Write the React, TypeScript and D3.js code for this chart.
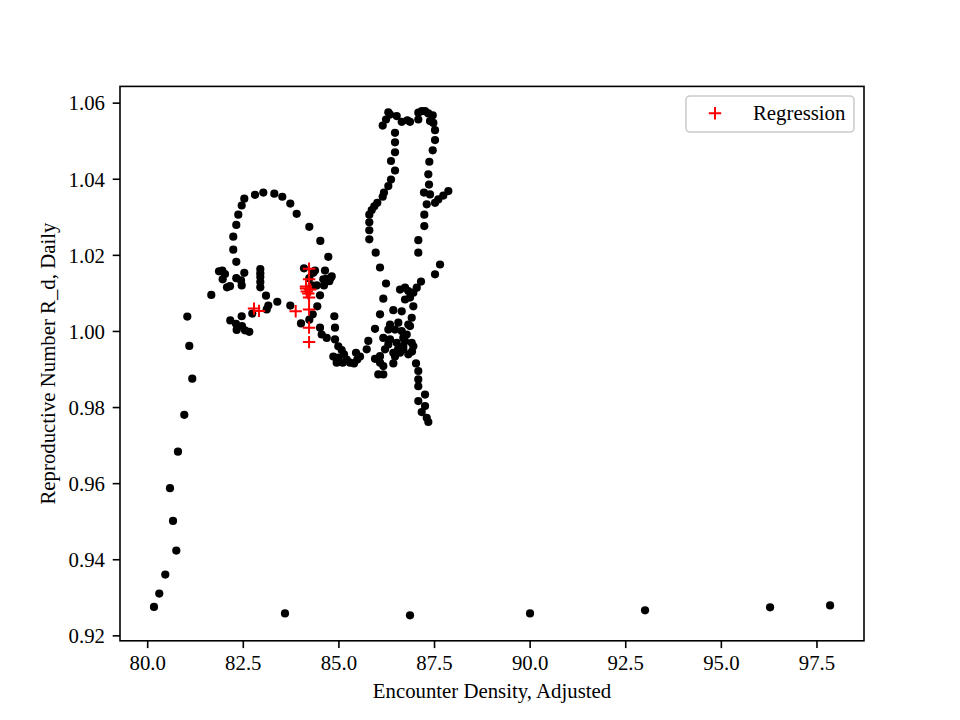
import React from "react";
import * as d3 from "d3";

const densityX: number[] = [
  80.165, 80.303, 80.46, 80.748, 80.662, 80.583, 80.792, 80.957, 81.166, 81.088, 81.036, 81.663,
  83.59, 86.859, 89.997, 93.005, 96.274, 97.843,
  82.526, 82.458, 82.369, 82.317, 82.238, 82.238, 82.317, 82.806, 83.023, 83.311, 83.52, 83.729, 83.896, 84.226, 84.514, 84.723,
  81.865, 81.951, 82.021, 81.961, 82.074, 82.152, 82.317, 82.44, 82.458, 82.526, 82.945, 82.945, 82.945, 82.945, 82.945,
  83.094, 83.154, 83.112, 83.389, 83.729, 82.16, 82.309, 82.458, 82.327, 82.466, 82.544, 82.657, 82.735,
  84.087, 84.226, 84.289, 84.375, 84.419, 84.506, 84.636, 84.681, 84.786, 84.61, 84.331, 84.331, 84.812, 84.749, 84.592,
  84.435, 84.315, 84.226, 84.009, 84.506, 84.55, 84.681, 84.88, 84.898, 84.898, 84.984, 84.854, 84.984, 85.133, 85.204,
  85.29, 85.447, 85.481, 85.395, 85.099, 84.942, 85.073, 85.552,
  85.769, 85.727, 85.944, 86.161, 86.03, 86.075, 86.161, 86.423, 86.075, 85.944, 86.075, 86.161, 86.232, 86.075, 85.962,
  85.795, 85.795, 85.795, 85.795, 85.858, 85.926, 86.004, 86.145, 86.179, 86.292, 86.362, 86.467, 86.362, 86.467, 86.467,
  86.467, 86.145, 86.232, 86.292, 86.336, 86.511, 86.642, 86.789, 86.859, 87.076, 87.076, 87.165, 87.252, 87.338, 87.453,
  87.382, 87.469, 87.513, 87.513, 87.453, 87.364, 87.338, 87.356, 87.225, 87.382, 87.296, 87.513, 87.599, 87.73, 87.861,
  87.233, 87.233, 87.076, 87.076, 87.644, 87.513, 87.147, 87.035, 86.946, 86.729, 86.815, 86.859, 86.729, 86.598, 86.946,
  86.642, 86.904, 86.815, 86.292, 86.161, 86.336, 86.553, 86.642, 86.773, 86.511, 86.684, 86.904, 86.946, 86.206, 86.423,
  86.598, 86.815, 86.292, 86.684, 86.859, 86.684, 86.423, 86.467, 86.336, 86.546, 86.729, 86.467, 86.911,
  87.016, 87.076, 87.076, 87.076, 87.252, 87.076, 87.252, 87.165, 87.296, 87.338,
];

const reproY: number[] = [
  0.9276, 0.9311, 0.9361, 0.9424, 0.9502, 0.9588, 0.9684, 0.9781, 0.9876, 0.9962, 1.0039, 1.0096,
  0.9259, 0.9254, 0.9259, 0.9267, 0.9275, 0.928,
  1.0349, 1.0331, 1.0307, 1.028, 1.0249, 1.0215, 1.0183, 1.0359, 1.0365, 1.0362, 1.0354, 1.0336, 1.0309, 1.0275, 1.0238, 1.0196,
  1.0158, 1.016, 1.0151, 1.0137, 1.0116, 1.0119, 1.014, 1.0134, 1.0121, 1.0154, 1.0164, 1.0153, 1.0143, 1.013, 1.0116,
  1.0094, 1.0068, 1.0058, 1.0078, 1.0068, 1.0029, 1.002, 1.004, 1.0004, 1.0014, 1.0003, 0.9999, 1.0047,
  1.0166, 1.014, 1.0121, 1.016, 1.0121, 1.0095, 1.016, 1.0138, 1.0141, 1.0121, 1.0154, 1.0119, 1.0145, 1.0132, 1.0137,
  1.0066, 1.0045, 1.0031, 1.0021, 1.001, 0.9992, 0.9983, 1.004, 1.001, 0.9979, 0.9961, 0.9934, 0.9931, 0.994, 0.9926,
  0.9918, 0.9944, 0.9926, 0.9916, 0.9918, 0.9918, 0.9951, 0.9934,
  0.9975, 0.9953, 0.9928, 0.9909, 0.9887, 0.9935, 0.9887, 0.9916, 0.9918, 1.0007, 1.0045, 1.0086, 1.0126, 1.0168, 1.0207,
  1.0242, 1.0266, 1.0287, 1.0307, 1.0319, 1.0329, 1.0338, 1.0354, 1.0365, 1.0382, 1.0399, 1.0423, 1.0448, 1.0471, 1.0497,
  1.0522, 1.0541, 1.0557, 1.0576, 1.057, 1.0566, 1.0551, 1.0555, 1.0551, 1.0557, 1.0575, 1.0579, 1.0579, 1.0573, 1.0568,
  1.0553, 1.0548, 1.0529, 1.0503, 1.0476, 1.0446, 1.0413, 1.0386, 1.0365, 1.036, 1.0334, 1.0338, 1.0347, 1.0357, 1.0369,
  1.0307, 1.0277, 1.024, 1.0207, 1.0176, 1.015, 1.0131, 1.0115, 1.0102, 1.0115, 1.0106, 1.0089, 1.0084, 1.011, 1.0066,
  1.0053, 1.0036, 1.0018, 1.0005, 0.9983, 0.9979, 1.0023, 1.0001, 0.9992, 0.997, 0.9961, 0.997, 0.9961, 0.9953, 0.9944,
  0.9944, 0.994, 0.9966, 0.9983, 1.0014, 0.9953, 1.0056, 1.0005, 1.0018, 0.9953, 0.9974, 0.9934, 0.9947,
  0.9916, 0.9896, 0.9874, 0.9856, 0.9834, 0.9817, 0.9804, 0.9788, 0.9773, 0.9762,
];

const regressionX: number[] = [82.78, 82.91, 83.87, 84.22, 84.22, 84.14, 84.25, 84.2, 84.22, 84.16, 84.14, 84.22, 84.22, 84.22];
const regressionY: number[] = [1.006, 1.0054, 1.0053, 1.0165, 1.0137, 1.0118, 1.011, 1.01, 1.0089, 1.0105, 1.0113, 1.0058, 1.001, 0.9972];

const xTicks: number[] = [80, 82.5, 85, 87.5, 90, 92.5, 95, 97.5];
const yTicks: number[] = [0.92, 0.94, 0.96, 0.98, 1.0, 1.02, 1.04, 1.06];

const xLabel = "Encounter Density, Adjusted";
const yLabel = "Reproductive Number R_d, Daily";
const legendLabel = "Regression";

const W = 960;
const H = 720;
const L = 120;
const R = 864;
const T = 86.4;
const B = 640.8;
const FONT = "'Liberation Serif', 'Times New Roman', serif";
const FS = 20.8;

export default function App() {
  const x = d3.scaleLinear().domain([79.276, 98.73]).range([L, R]);
  const y = d3.scaleLinear().domain([0.9187, 1.0644]).range([B, T]);
  const fx = d3.format(".1f");
  const fy = d3.format(".2f");
  const plusPath = (cx: number, cy: number, s: number) =>
    `M${cx - s},${cy}H${cx + s}M${cx},${cy - s}V${cy + s}`;

  return (
    <svg
      width={W}
      height={H}
      style={{ position: "absolute", left: 0, top: 0, background: "#fff" }}
      fontFamily={FONT}
    >
      <rect x={0} y={0} width={W} height={H} fill="#fff" />
      <g>
        {densityX.map((dx, i) => (
          <circle key={i} cx={x(dx)} cy={y(reproY[i])} r={4.1} fill="#000" />
        ))}
      </g>
      <g>
        {regressionX.map((rx, i) => (
          <path
            key={i}
            d={plusPath(x(rx), y(regressionY[i]), 6.2)}
            stroke="#ff0000"
            strokeWidth={2}
            fill="none"
          />
        ))}
      </g>
      <rect x={L} y={T} width={R - L} height={B - T} fill="none" stroke="#000" strokeWidth={1.6} />
      <g>
        {xTicks.map((t) => (
          <g key={t}>
            <line x1={x(t)} x2={x(t)} y1={B} y2={B + 7.3} stroke="#000" strokeWidth={1.6} />
            <text x={x(t)} y={670} textAnchor="middle" fontSize={FS} fill="#000">
              {fx(t)}
            </text>
          </g>
        ))}
      </g>
      <g>
        {yTicks.map((t) => (
          <g key={t}>
            <line x1={L - 7.3} x2={L} y1={y(t)} y2={y(t)} stroke="#000" strokeWidth={1.6} />
            <text x={105} y={y(t)} dy="0.35em" textAnchor="end" fontSize={FS} fill="#000">
              {fy(t)}
            </text>
          </g>
        ))}
      </g>
      <text x={(L + R) / 2} y={698} textAnchor="middle" fontSize={FS} fill="#000">
        {xLabel}
      </text>
      <text
        transform={`translate(55,${(T + B) / 2}) rotate(-90)`}
        textAnchor="middle"
        fontSize={FS}
        fill="#000"
      >
        {yLabel}
      </text>
      <g>
        <rect x={686} y={96} width={168} height={36} rx={4} fill="#fff" fillOpacity={0.8} stroke="#cccccc" strokeWidth={1.6} />
        <path d={plusPath(715, 113.3, 6.2)} stroke="#ff0000" strokeWidth={2} fill="none" />
        <text x={753} y={119.5} fontSize={FS} fill="#000">
          {legendLabel}
        </text>
      </g>
    </svg>
  );
}
